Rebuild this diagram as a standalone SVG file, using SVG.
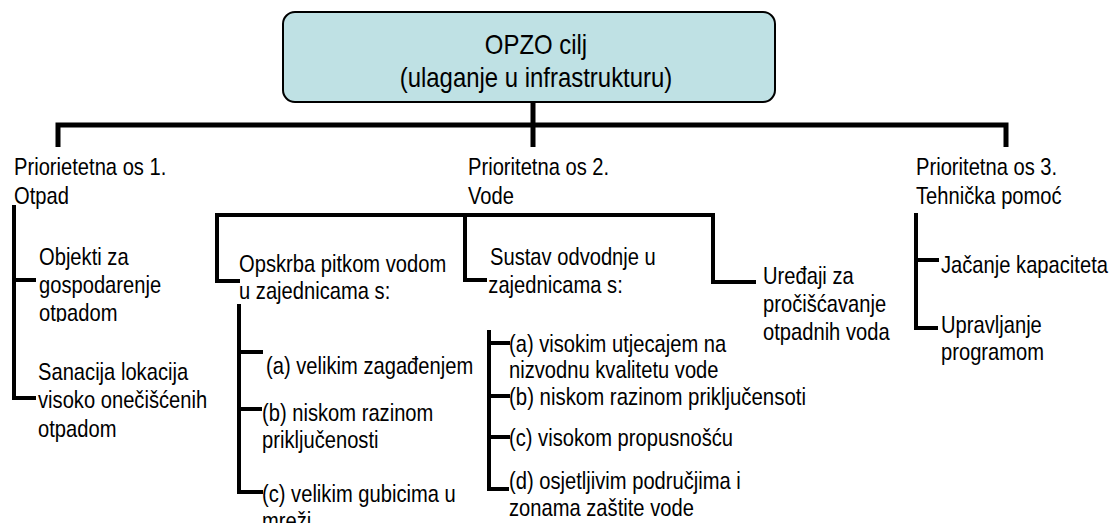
<svg xmlns="http://www.w3.org/2000/svg" width="1112" height="523" viewBox="0 0 1112 523">
<style>
.t{font-family:"Liberation Sans",Arial,sans-serif;font-size:24px;fill:#000}
.h{font-family:"Liberation Sans",Arial,sans-serif;font-size:28.5px;fill:#000;text-anchor:middle}
.c{fill:none;stroke:#000;stroke-width:4;stroke-linejoin:miter;stroke-linecap:square}
.m{fill:none;stroke:#000;stroke-width:5;stroke-linejoin:miter;stroke-linecap:butt}
</style>
<defs>
<clipPath id="clipA"><rect x="30" y="230" width="200" height="92"/></clipPath>
</defs>
<rect width="1112" height="523" fill="#fff"/>
<g id="connectors">
<path class="m" d="M533,102 V147"/>
<path class="m" d="M58,147 V125 H1006 V147"/>
<path class="c" d="M14,207 V398 H34 M14,280 H34"/>
<path class="c" d="M238,281 H217 V215 H713 V282 H754"/>
<path class="c" d="M465,215 V280 H485"/>
<path class="c" d="M239,306 V492 H261 M239,352 H261 M239,409 H260"/>
<path class="c" d="M489,332 V489 H507 M489,343 H508 M489,396 H508 M489,437 H508"/>
<path class="c" d="M916,215 V328 H936 M916,260 H937"/>
</g>
<g id="root">
<rect x="283" y="12" width="492" height="90" rx="12" fill="#bfe1e4" stroke="#000" stroke-width="2"/>
<text class="h" transform="translate(536,54) scale(0.84,1)">OPZO cilj</text>
<text class="h" transform="translate(536,87) scale(0.84,1)">(ulaganje u infrastrukturu)</text>
</g>
<g id="axis1">
<text class="t" transform="translate(14,175) scale(0.84,1)"><tspan x="0">Priorietetna os 1.</tspan><tspan x="0" dy="29">Otpad</tspan></text>
</g>
<g id="axis2">
<text class="t" transform="translate(468,175) scale(0.84,1)"><tspan x="0">Prioritetna os 2.</tspan><tspan x="0" dy="29">Vode</tspan></text>
</g>
<g id="axis3">
<text class="t" transform="translate(916,175) scale(0.84,1)"><tspan x="0">Prioritetna os 3.</tspan><tspan x="0" dy="29">Tehnička pomoć</tspan></text>
</g>
<g id="objekti" clip-path="url(#clipA)">
<text class="t" transform="translate(39,265) scale(0.84,1)"><tspan x="0">Objekti za</tspan><tspan x="0" dy="28">gospodarenje</tspan><tspan x="0" dy="28">otpadom</tspan></text>
</g>
<g id="sanacija">
<text class="t" transform="translate(38,380) scale(0.84,1)"><tspan x="0">Sanacija lokacija</tspan><tspan x="0" dy="28.5">visoko onečišćenih</tspan><tspan x="0" dy="28.5">otpadom</tspan></text>
</g>
<g id="opskrba">
<text class="t" transform="translate(239,272) scale(0.84,1)"><tspan x="0">Opskrba pitkom vodom</tspan><tspan x="0" dy="27">u zajednicama s:</tspan></text>
</g>
<g id="opskrba-a">
<text class="t" transform="translate(266,374) scale(0.84,1)">(a) velikim zagađenjem</text>
</g>
<g id="opskrba-b">
<text class="t" transform="translate(262,421) scale(0.84,1)"><tspan x="0">(b) niskom razinom</tspan><tspan x="0" dy="27">priključenosti</tspan></text>
</g>
<g id="opskrba-c">
<text class="t" transform="translate(262,502) scale(0.84,1)"><tspan x="0">(c) velikim gubicima u</tspan><tspan x="0" dy="27">mreži</tspan></text>
</g>
<g id="sustav">
<text class="t" transform="translate(490,265) scale(0.84,1)"><tspan x="0">Sustav odvodnje u</tspan><tspan x="-2" dy="28">zajednicama s:</tspan></text>
</g>
<g id="sustav-a">
<text class="t" transform="translate(509,352) scale(0.84,1)"><tspan x="0">(a) visokim utjecajem na</tspan><tspan x="0" dy="26">nizvodnu kvalitetu vode</tspan></text>
</g>
<g id="sustav-b">
<text class="t" transform="translate(509,405) scale(0.85,1)">(b) niskom razinom  priključensoti</text>
</g>
<g id="sustav-c">
<text class="t" transform="translate(509,446) scale(0.84,1)">(c) visokom propusnošću</text>
</g>
<g id="sustav-d">
<text class="t" transform="translate(509,489) scale(0.84,1)"><tspan x="0">(d) osjetljivim područjima i</tspan><tspan x="0" dy="27">zonama zaštite vode</tspan></text>
</g>
<g id="uredaji">
<text class="t" transform="translate(763,284) scale(0.84,1)"><tspan x="0">Uređaji za</tspan><tspan x="0" dy="28">pročišćavanje</tspan><tspan x="0" dy="28">otpadnih voda</tspan></text>
</g>
<g id="jacanje">
<text class="t" transform="translate(941,273) scale(0.84,1)">Jačanje kapaciteta</text>
</g>
<g id="upravljanje">
<text class="t" transform="translate(941,333) scale(0.84,1)"><tspan x="0">Upravljanje</tspan><tspan x="0" dy="27">programom</tspan></text>
</g>
</svg>
